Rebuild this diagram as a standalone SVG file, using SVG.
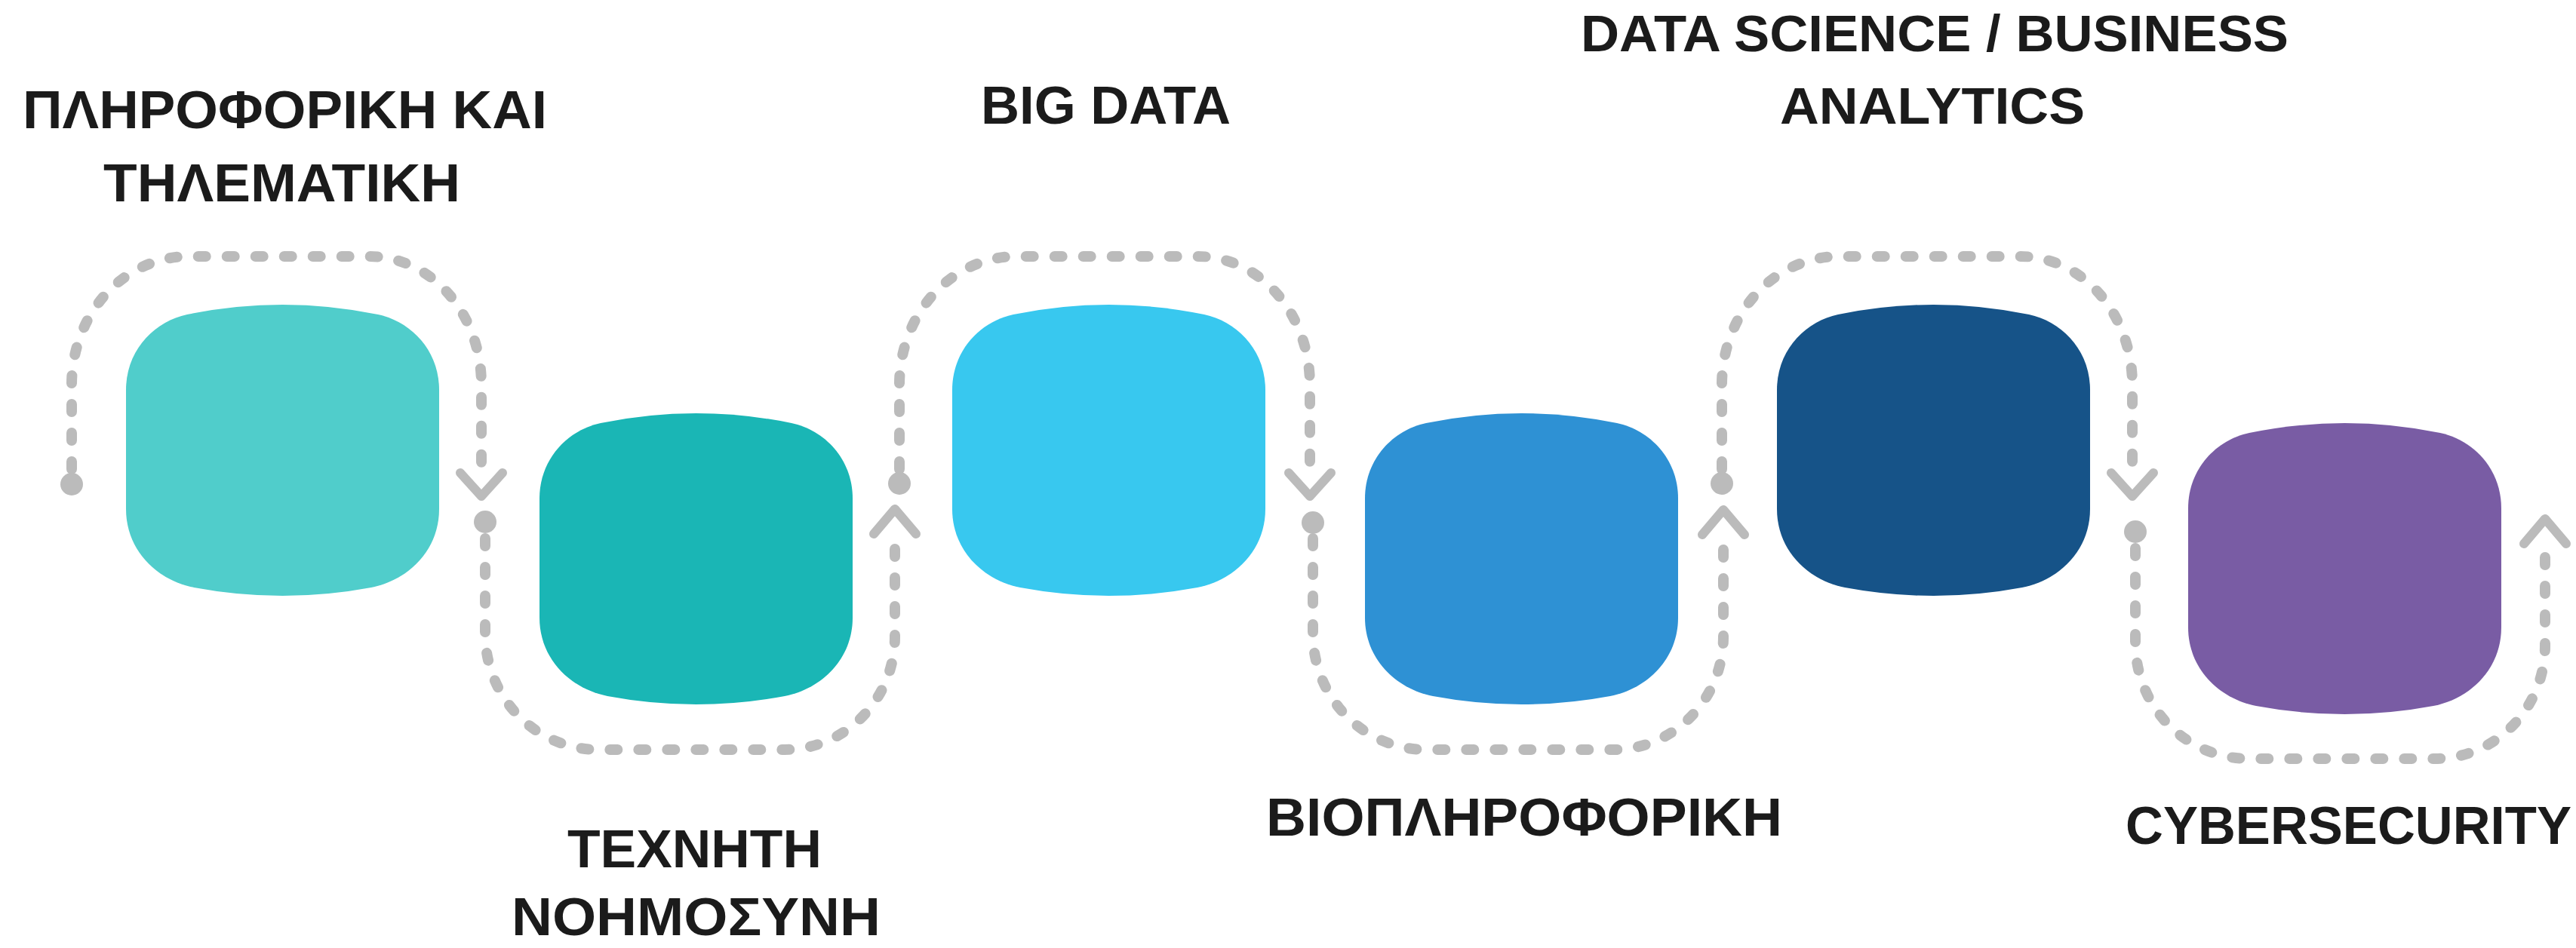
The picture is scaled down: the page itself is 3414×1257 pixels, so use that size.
<svg xmlns="http://www.w3.org/2000/svg" xmlns:xlink="http://www.w3.org/1999/xlink" width="3414" height="1257" viewBox="0 0 3414 1257">
<style>
.lbl{font-family:"Liberation Sans",Arial,sans-serif;font-weight:700;font-size:70px;fill:#1b1b1b}
.dash{fill:none;stroke:#bbbbbb;stroke-width:14;stroke-linecap:round;stroke-dasharray:10 28}
.arr{fill:none;stroke:#bbbbbb;stroke-width:12;stroke-linecap:round;stroke-linejoin:round}
.dot{fill:#bbbbbb}
</style>
<defs>
<path id="blob" d="M81,13 Q207.5,-13 334,13 C377,22 415,60 415,113 L415,271 C415,325 375,365 325,375 Q207.5,397 90,375 C40,365 0,325 0,271 L0,113 C0,60 38,22 81,13 Z"/>
<path id="down" d="M-28,-31 L0,0 L28,-31"/>
<path id="up" d="M-28,33 L0,0 L28,33"/>
</defs>
<rect width="3414" height="1257" fill="#ffffff"/>

<g id="connectors">
<path class="dash" d="M95,622 L95,510 A155,170 0 0 1 250,340 L490,340 A148,170 0 0 1 638,510 L638,622"/>
<circle class="dot" cx="95" cy="642" r="15"/>
<use href="#down" class="arr" transform="translate(638,658)"/>
<circle class="dot" cx="643" cy="692" r="15"/>
<path class="dash" d="M643,714 L643,840 A150,154 0 0 0 793,994 L1040,994 A146,150 0 0 0 1186,844 L1186,712"/>
<use href="#up" class="arr" transform="translate(1186,675)"/>
<circle class="dot" cx="1192" cy="641" r="15"/>
<path class="dash" d="M1192,622 L1192,510 A155,170 0 0 1 1347,340 L1588,340 A148,170 0 0 1 1736,510 L1736,622"/>
<use href="#down" class="arr" transform="translate(1736,658)"/>
<circle class="dot" cx="1740" cy="693" r="15"/>
<path class="dash" d="M1740,714 L1740,840 A150,154 0 0 0 1890,994 L2138,994 A146,150 0 0 0 2284,844 L2284,712"/>
<use href="#up" class="arr" transform="translate(2284,676)"/>
<circle class="dot" cx="2282" cy="641" r="15"/>
<path class="dash" d="M2282,622 L2282,510 A155,170 0 0 1 2437,340 L2678,340 A148,170 0 0 1 2826,510 L2826,622"/>
<use href="#down" class="arr" transform="translate(2826,658)"/>
<circle class="dot" cx="2830" cy="705" r="15"/>
<path class="dash" d="M2830,727 L2830,852 A150,154 0 0 0 2980,1006 L3227,1006 A146,150 0 0 0 3373,856 L3373,725"/>
<use href="#up" class="arr" transform="translate(3373,688)"/>
</g>

<g id="node1">
<use href="#blob" fill="#50cdcb" transform="translate(167,404)"/>
<text class="lbl" x="30" y="170" textLength="695" lengthAdjust="spacingAndGlyphs">ΠΛΗΡΟΦΟΡΙΚΗ ΚΑΙ</text>
<text class="lbl" x="137" y="267" textLength="473" lengthAdjust="spacingAndGlyphs">ΤΗΛΕΜΑΤΙΚΗ</text>
</g>
<g id="node2">
<use href="#blob" fill="#1ab6b5" transform="translate(715,548)"/>
<text class="lbl" x="752" y="1150" textLength="337" lengthAdjust="spacingAndGlyphs">ΤΕΧΝΗΤΗ</text>
<text class="lbl" x="678" y="1240" textLength="489" lengthAdjust="spacingAndGlyphs">ΝΟΗΜΟΣΥΝΗ</text>
</g>
<g id="node3">
<use href="#blob" fill="#38c8ef" transform="translate(1262,404)"/>
<text class="lbl" x="1300" y="164" textLength="331" lengthAdjust="spacingAndGlyphs">BIG DATA</text>
</g>
<g id="node4">
<use href="#blob" fill="#2e91d4" transform="translate(1809,548)"/>
<text class="lbl" x="1678" y="1108" textLength="684" lengthAdjust="spacingAndGlyphs">ΒΙΟΠΛΗΡΟΦΟΡΙΚΗ</text>
</g>
<g id="node5">
<use href="#blob" fill="#165388" transform="translate(2355,404)"/>
<text class="lbl" x="2095" y="68" textLength="938" lengthAdjust="spacingAndGlyphs" style="font-size:68px">DATA SCIENCE / BUSINESS</text>
<text class="lbl" x="2359" y="164" textLength="404" lengthAdjust="spacingAndGlyphs" style="font-size:68px">ANALYTICS</text>
</g>
<g id="node6">
<use href="#blob" fill="#795ca4" transform="translate(2900,561)"/>
<text class="lbl" x="2817" y="1119" textLength="591" lengthAdjust="spacingAndGlyphs">CYBERSECURITY</text>
</g>
</svg>
